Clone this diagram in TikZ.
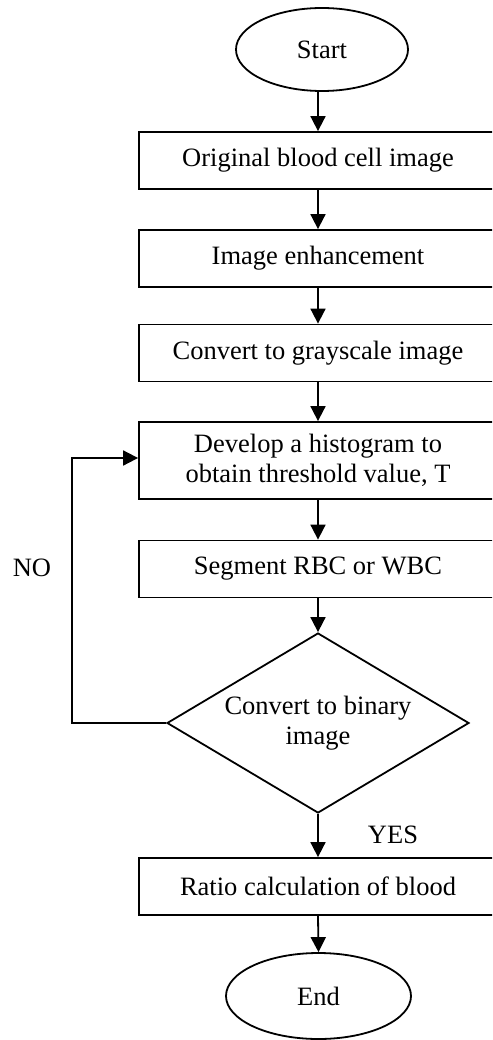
\documentclass[tikz,border=0pt]{standalone}
\usepackage{fontspec}
\setmainfont{Liberation Serif}
\usetikzlibrary{shapes.geometric,arrows.meta}
\begin{document}
\begin{tikzpicture}[x=1pt,y=-1pt,
  every node/.style={font=\fontsize{26.5}{30}\selectfont},
  line/.style={line width=1.8pt},
  flow/.style={line, -{Triangle[length=15pt,width=15pt]}},
  procbox/.style={draw, line width=1.8pt, rectangle, minimum width=358pt,
    minimum height=57pt, align=center, inner sep=0pt},
  terminal/.style={draw, line width=1.8pt, ellipse, inner sep=0pt},
  decision/.style={draw, line width=1.8pt, diamond, aspect=1.678,
    minimum width=302pt, minimum height=180pt, inner sep=0pt, align=center}]
\useasboundingbox (0,0) rectangle (492,1040);
\clip (0,0) rectangle (492,1040);

\node[terminal, minimum width=172pt, minimum height=83pt] (start) at (322,49.5) {Start};
\node[procbox] (orig) at (318,160.5) {Original blood cell image};
\node[procbox] (enh) at (318,258.5) {Image enhancement};
\node[procbox] (gray) at (318,353) {Convert to grayscale image};
\node[procbox, minimum height=77pt] (hist) at (318,460.5) {Develop a histogram to\\obtain threshold value, T};
\node[procbox] (seg) at (318,569) {Segment RBC or WBC};
\node[decision] (bin) at (318,723) {Convert to binary\\image};
\node[procbox] (ratio) at (318,886.5) {Ratio calculation of blood};
\node[terminal, minimum width=185pt, minimum height=86pt] (end) at (318.5,996) {End};

\node (no) at (32,568) {NO};
\node (yes) at (393,835) {YES};

\coordinate (loopdown) at (72,723);
\coordinate (loopup) at (72,458);
\coordinate (histin) at (hist.west |- loopup);

\draw[flow] (318,91.5) -- (orig.north);
\draw[flow] (orig.south) -- (enh.north);
\draw[flow] (enh.south) -- (gray.north);
\draw[flow] (gray.south) -- (hist.north);
\draw[flow] (hist.south) -- (seg.north);
\draw[flow] (seg.south) -- (bin.north);
\draw[flow] (bin.south) -- (ratio.north);
\draw[flow] (ratio.south) -- (end.north);
\draw[flow] (bin.west) -- (loopdown) -- (loopup) -- (histin);
\end{tikzpicture}
\end{document}
